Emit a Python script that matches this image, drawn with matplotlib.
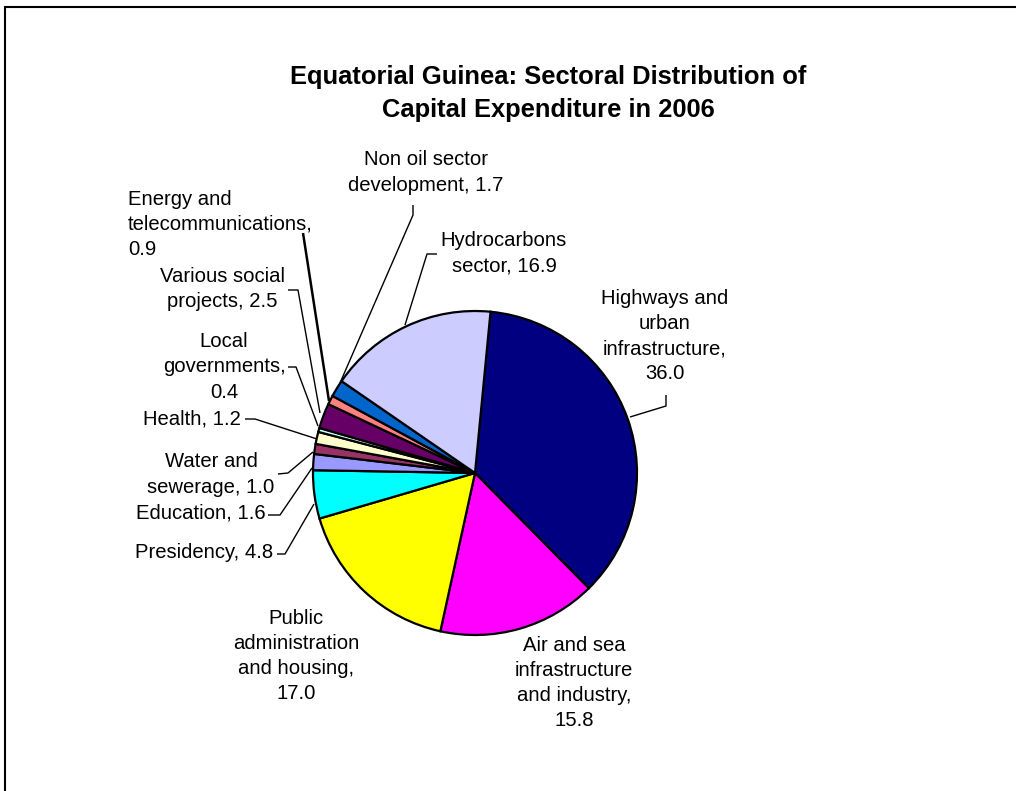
import matplotlib
matplotlib.use("Agg")
import matplotlib.pyplot as plt
from matplotlib.patches import Rectangle

plt.rcParams['font.family'] = ['Liberation Sans', 'DejaVu Sans']

# Sectors in clockwise order starting from the top of the pie
sectors = [
    "Highways and\nurban\ninfrastructure,",
    "Air and sea\ninfrastructure\nand industry,",
    "Public\nadministration\nand housing,",
    "Presidency,",
    "Education,",
    "Water and\nsewerage,",
    "Health,",
    "Local\ngovernments,",
    "Various social\nprojects,",
    "Energy and\ntelecommunications,",
    "Non oil sector\ndevelopment,",
    "Hydrocarbons\nsector,",
]
shares = [36.0, 15.8, 17.0, 4.8, 1.6, 1.0, 1.2, 0.4, 2.5, 0.9, 1.7, 16.9]
colors = ["#000080", "#FF00FF", "#FFFF00", "#00FFFF", "#9999FF", "#993366",
          "#FFFFCC", "#CCFFFF", "#660066", "#FF8080", "#0066CC", "#CCCCFF"]

# value appended to a new line when the name already spans several lines
label_sep = ["\n", "\n", "\n", " ", " ", " ", " ", "\n", " ", "\n", " ", " "]
labels = [f"{n}{s}{v:.1f}" for n, s, v in zip(sectors, label_sep, shares)]

W, H = 1016, 791
fig = plt.figure(figsize=(W / 100, H / 100), dpi=100)
ax = fig.add_axes([0, 0, 1, 1])


def Y(py):
    return H - py


cx, cy, r = 475, Y(473), 162
ax.pie(shares, colors=colors, startangle=84.5, counterclock=False,
       center=(cx, cy), radius=r,
       wedgeprops=dict(edgecolor="black", linewidth=1.6))
ax.set_xlim(0, W)
ax.set_ylim(0, H)
ax.set_aspect("equal")
ax.axis("off")

# Label placement (centre of each text block) and alignment
label_pos = [
    (665, 336, "center"),
    (574, 683, "center"),
    (296, 656, "center"),
    (204.5, 553, "center"),
    (200.5, 513, "center"),
    (211, 474.5, "center"),
    (192, 419, "center"),
    (224, 367, "center"),
    (222, 289, "center"),
    (128, 224.5, "left"),
    (426, 172.5, "center"),
    (504, 253.5, "center"),
]
for text, (x, y, ha) in zip(labels, label_pos):
    ax.text(x, Y(y), text, ha=ha, va="center",
            multialignment="center" if ha == "center" else "left",
            fontsize=14.6, linespacing=1.41, color="black")

# Leader lines joining labels to their wedges
leaders = [
    ([666, 666, 630], [395, 406, 417], 1.0),
    ([245, 255, 317], [419, 419, 439], 1.0),
    ([278, 288, 313], [474, 473, 452], 1.0),
    ([268, 280, 312], [515, 515, 468], 1.0),
    ([277, 285, 314], [554, 554, 504], 1.0),
    ([288, 298, 320], [290, 290, 413], 1.0),
    ([288, 296, 318], [367, 367, 426], 1.0),
    ([303, 329], [233, 401], 1.8),
    ([413, 413, 340], [205, 215, 383], 1.0),
    ([437, 427, 405], [254, 254, 325], 1.0),
]
for xs, ys, lw in leaders:
    ax.plot(xs, [Y(v) for v in ys], color="black", linewidth=lw, solid_capstyle="butt")

ax.text(548, Y(93.5), "Equatorial Guinea: Sectoral Distribution of\nCapital Expenditure in 2006",
        ha="center", va="center", fontsize=18.4, fontweight="bold", linespacing=1.5)

# Chart-area frame
ax.add_patch(Rectangle((5, Y(H + 20)), W + 20, H + 20 - 7, fill=False,
                       edgecolor="black", linewidth=1.5, clip_on=False))

fig.savefig("out.png", dpi=100, facecolor="white")
